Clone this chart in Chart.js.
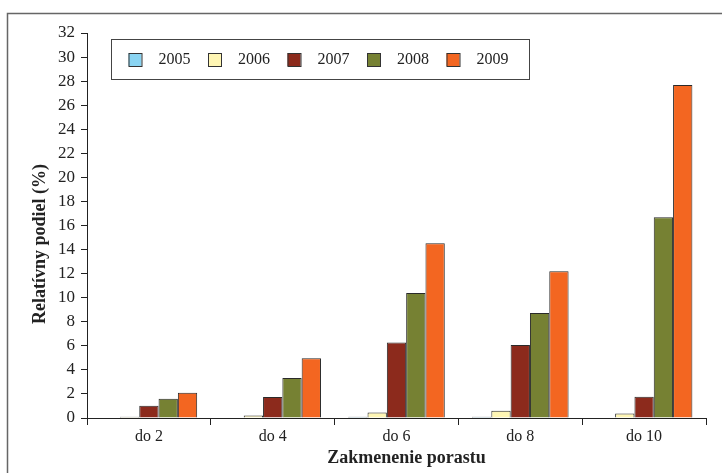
<!DOCTYPE html>
<html>
<head>
<meta charset="utf-8">
<script src="https://cdn.jsdelivr.net/npm/chart.js@4"></script>
<style>
  html, body { margin: 0; padding: 0; background: #fff; }
  #wrap { width: 722px; height: 473px; position: relative; }
</style>
</head>
<body>
<div id="wrap"><canvas id="chart" width="722" height="473"></canvas></div>
<script>
// categories and series
const categories = ["do 2", "do 4", "do 6", "do 8", "do 10"];
const years = ["2005", "2006", "2007", "2008", "2009"];
const v2005 = [0, 0, 0.1, 0.1, 0];
const v2006 = [0.1, 0.2, 0.45, 0.6, 0.37];
const v2007 = [1.02, 1.74, 6.28, 6.07, 1.76];
const v2008 = [1.6, 3.33, 10.38, 8.72, 16.68];
const v2009 = [2.1, 4.96, 14.53, 12.2, 27.68];
const colors = ["#8ad4f2", "#fff6b4", "#8c2a1c", "#768133", "#f36621"];
const xTitle = "Zakmenenie porastu";
const yTitle = "Relatívny podiel (%)";

const series = [v2005, v2006, v2007, v2008, v2009];
const FONT = "'Liberation Serif', 'Times New Roman', serif";

// frame round the figure, axis titles and the boxed legend
const decor = {
  id: "decor",
  beforeDraw(chart) {
    const c = chart.ctx;
    c.save();
    c.strokeStyle = "#666";
    c.lineWidth = 1.5;
    c.strokeRect(7.5, 13.5, 730, 480);
    c.restore();
  },
  afterDraw(chart) {
    const c = chart.ctx;
    const a = chart.chartArea;
    c.save();
    // axis titles
    c.fillStyle = "#222";
    c.font = "bold 18px " + FONT;
    c.textAlign = "center";
    c.textBaseline = "middle";
    c.fillText(xTitle, (a.left + a.right) / 2 + 10, 458);
    c.save();
    c.translate(40, 244);
    c.rotate(-Math.PI / 2);
    c.fillText(yTitle, 0, 0);
    c.restore();

    // legend
    const x0 = a.left + 24.5, y0 = 39.5;
    c.strokeStyle = "#444";
    c.lineWidth = 1;
    c.strokeRect(x0, y0, 418, 40);
    c.font = "16px " + FONT;
    c.textAlign = "left";
    chart.data.datasets.forEach((ds, i) => {
      const sx = x0 + 17 + i * 79.5;
      c.fillStyle = ds.backgroundColor;
      c.fillRect(sx, 53, 13, 13);
      c.strokeStyle = "#333";
      c.strokeRect(sx + 0.5, 53.5, 13, 13);
      c.fillStyle = "#222";
      c.fillText(ds.label, sx + 30, 60);
    });
    c.restore();
  }
};

new Chart(document.getElementById("chart"), {
  type: "bar",
  data: {
    labels: categories,
    datasets: years.map((y, i) => ({
      label: y,
      data: series[i],
      backgroundColor: colors[i],
      borderColor: "#2a2a2a",
      borderWidth: 1,
      borderSkipped: "bottom",
      categoryPercentage: 0.78,
      barPercentage: 1.0
    }))
  },
  options: {
    responsive: false,
    animation: false,
    layout: { padding: { top: 33, right: 16, left: 0, bottom: 0 } },
    plugins: {
      legend: { display: false },
      tooltip: { enabled: false }
    },
    scales: {
      x: {
        grid: { display: true, drawOnChartArea: false, drawTicks: true, tickLength: 7, color: "#222", offset: true },
        border: { display: true, color: "#222", width: 1 },
        ticks: { color: "#222", font: { family: FONT, size: 16 }, padding: 2 },
        afterFit(scale) { scale.height = 55; }
      },
      y: {
        min: 0, max: 32,
        ticks: { stepSize: 2, color: "#222", font: { family: FONT, size: 17 }, padding: 6 },
        grid: { display: true, drawOnChartArea: false, drawTicks: true, tickLength: 6, color: "#222" },
        border: { display: true, color: "#222", width: 1 },
        afterFit(scale) { scale.width = 87; }
      }
    }
  },
  plugins: [decor]
});
</script>
</body>
</html>
